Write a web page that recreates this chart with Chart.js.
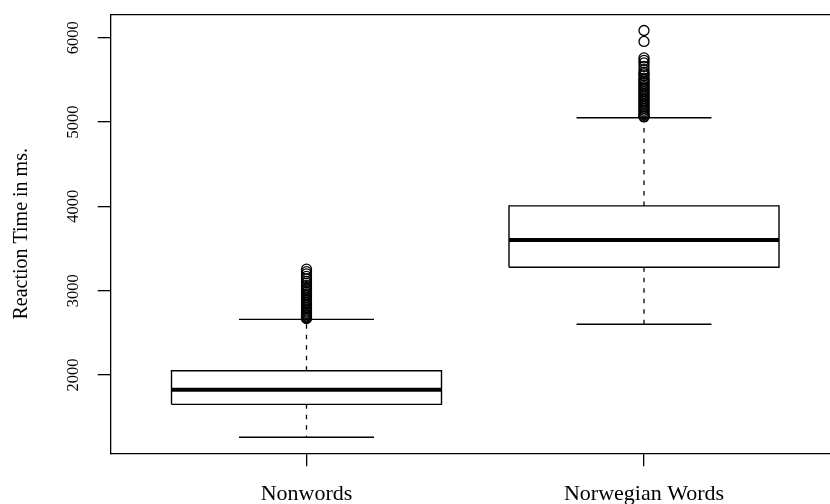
<!DOCTYPE html>
<html>
<head>
<meta charset="utf-8">
<script src="https://cdn.jsdelivr.net/npm/chart.js@4"></script>
<style>
  html, body { margin: 0; padding: 0; background: #fff; overflow: hidden; }
  #wrap { width: 830px; height: 504px; position: relative; }
</style>
</head>
<body>
<div id="wrap"><canvas id="c" width="830" height="504"></canvas></div>
<script>
// ---- data ----
const categories = ['Nonwords', 'Norwegian Words'];
const lowerWhisker = [1261, 2601];
const quartile1 = [1652, 3277];
const medians = [1826, 3601];
const quartile3 = [2051, 4005];
const upperWhisker = [2660, 5051];
const outliersNonwords = [3255, 3225, 3200, 3170, 3140, 3110, 3090, 3060, 3040, 3020, 3000, 2980,
  2960, 2940, 2920, 2900, 2880, 2860, 2840, 2820, 2800, 2780, 2760, 2745, 2730, 2715, 2700, 2690, 2680, 2670];
const outliersNorwegian = [6085, 5955, 5760, 5730, 5700, 5660, 5620, 5590, 5570, 5550, 5520, 5500,
  5480, 5460, 5440, 5420, 5400, 5380, 5360, 5340, 5320, 5300, 5280, 5260, 5240, 5220, 5200, 5180,
  5160, 5140, 5120, 5100, 5085, 5070, 5060];
const yTicks = [2000, 3000, 4000, 5000, 6000];

// ---- styling / layout constants ----
const BOX_HALF = 0.4, CAP_HALF = 0.2;
const X_MIN = 0.42, X_MAX = 2.5511;
const Y_MIN = 1071.5, Y_MAX = 6277;
const INK = '#000';
const SERIF = "'Liberation Serif', 'Times New Roman', serif";

const outlierSets = [outliersNonwords, outliersNorwegian];
const datasets = [];
function seg(points, extra) {
  datasets.push(Object.assign({
    data: points, showLine: true, fill: false, tension: 0,
    borderColor: INK, borderWidth: 1.4, pointRadius: 0, pointHoverRadius: 0,
    borderCapStyle: 'butt', borderJoinStyle: 'miter'
  }, extra || {}));
}
categories.forEach((name, i) => {
  const c = i + 1;
  // box
  seg([{x: c - BOX_HALF, y: quartile1[i]}, {x: c + BOX_HALF, y: quartile1[i]},
       {x: c + BOX_HALF, y: quartile3[i]}, {x: c - BOX_HALF, y: quartile3[i]},
       {x: c - BOX_HALF, y: quartile1[i]}]);
  // median
  seg([{x: c - BOX_HALF, y: medians[i]}, {x: c + BOX_HALF, y: medians[i]}], {borderWidth: 4});
  // whiskers (dashed)
  seg([{x: c, y: quartile3[i]}, {x: c, y: upperWhisker[i]}], {borderDash: [4.5, 6], borderWidth: 1.3});
  seg([{x: c, y: quartile1[i]}, {x: c, y: lowerWhisker[i]}], {borderDash: [4.5, 6], borderWidth: 1.3});
  // caps
  seg([{x: c - CAP_HALF, y: upperWhisker[i]}, {x: c + CAP_HALF, y: upperWhisker[i]}]);
  seg([{x: c - CAP_HALF, y: lowerWhisker[i]}, {x: c + CAP_HALF, y: lowerWhisker[i]}]);
  // outliers
  datasets.push({
    data: outlierSets[i].map(v => ({x: c, y: v})),
    showLine: false, pointStyle: 'circle', pointRadius: 5, pointHoverRadius: 5,
    pointBorderWidth: 1.3, pointBorderColor: INK, pointBackgroundColor: 'rgba(0,0,0,0)'
  });
});

new Chart(document.getElementById('c'), {
  type: 'scatter',
  data: { datasets },
  options: {
    responsive: false,
    animation: false,
    devicePixelRatio: 1,
    layout: { autoPadding: false, padding: { left: 0, right: 0, top: 14.3, bottom: 0 } },
    plugins: { legend: { display: false }, tooltip: { enabled: false } },
    scales: {
      x: {
        type: 'linear', position: 'bottom', min: X_MIN, max: X_MAX,
        afterBuildTicks: s => { s.ticks = categories.map((_, i) => ({value: i + 1})); },
        afterFit: s => { s.height = 50.7; s.paddingLeft = 0; s.paddingRight = 0; },
        grid: { display: true, drawOnChartArea: false, drawTicks: true, tickLength: 13,
                color: INK, tickColor: INK, lineWidth: 1.3 },
        border: { display: true, color: INK, width: 1.3 },
        ticks: { color: INK, padding: 15, maxRotation: 0, autoSkip: false,
                 font: { family: SERIF, size: 22 },
                 callback: v => categories[Math.round(v) - 1] }
      },
      x2: {
        type: 'linear', position: 'top', min: X_MIN, max: X_MAX,
        afterFit: s => { s.height = 0; s.paddingLeft = 0; s.paddingRight = 0; },
        grid: { display: false },
        ticks: { display: false },
        border: { display: true, color: INK, width: 1.3 }
      },
      y: {
        type: 'linear', position: 'left', min: Y_MIN, max: Y_MAX,
        afterBuildTicks: s => { s.ticks = yTicks.map(v => ({value: v})); },
        afterFit: s => { s.width = 110.75; s.paddingTop = 0; s.paddingBottom = 0; },
        grid: { display: true, drawOnChartArea: false, drawTicks: true, tickLength: 13,
                color: INK, tickColor: INK, lineWidth: 1.3 },
        border: { display: true, color: INK, width: 1.3 },
        ticks: { color: INK, padding: 7.75, minRotation: 90, maxRotation: 90,
                 crossAlign: 'center', autoSkip: false,
                 font: { family: SERIF, size: 16.5 },
                 callback: v => String(v) },
        title: { display: true, text: 'Reaction Time in ms.', color: INK,
                 font: { family: SERIF, size: 20 }, padding: { top: 10, bottom: 0 } }
      }
    }
  }
});
</script>
</body>
</html>
